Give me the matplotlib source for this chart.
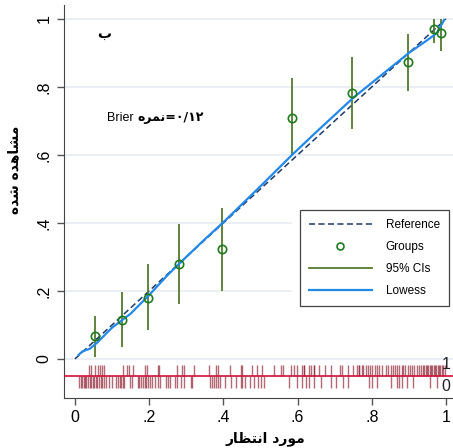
import numpy as np
import matplotlib
matplotlib.use("Agg")
import matplotlib.pyplot as plt
from matplotlib.patches import Rectangle
from matplotlib.lines import Line2D

# گروه‌ها (مقادیر خوانده شده از تصویر)
grp_x = [0.054, 0.127, 0.197, 0.281, 0.395, 0.585, 0.747, 0.898, 0.968, 0.987]
grp_y = [0.068, 0.115, 0.180, 0.280, 0.323, 0.709, 0.782, 0.873, 0.971, 0.959]
grp_lo = [0.006, 0.035, 0.085, 0.162, 0.200, 0.600, 0.676, 0.788, 0.929, 0.906]
grp_hi = [0.126, 0.197, 0.280, 0.397, 0.444, 0.826, 0.888, 0.956, 1.000, 1.000]

# منحنی lowess
low_x = [0.01, 0.02, 0.04, 0.06, 0.10, 0.15, 0.20, 0.25, 0.30, 0.35, 0.40,
         0.50, 0.585, 0.65, 0.75, 0.85, 0.90, 0.95, 0.975, 0.995]
low_y = [0.012, 0.022, 0.030, 0.048, 0.092, 0.133, 0.188, 0.247, 0.300, 0.352,
         0.402, 0.508, 0.600, 0.667, 0.768, 0.856, 0.900, 0.938, 0.958, 0.997]

# rug: پیامد = ۱ (بالا) و پیامد = ۰ (پایین)
rug1 = [0.039, 0.043, 0.055, 0.061, 0.067, 0.074, 0.079, 0.129, 0.141, 0.146,
        0.157, 0.190, 0.194, 0.223, 0.227, 0.275, 0.288, 0.294, 0.322, 0.362,
        0.380, 0.386, 0.418, 0.447, 0.451, 0.478, 0.491, 0.503, 0.537, 0.556,
        0.562, 0.582, 0.589, 0.598, 0.611, 0.616, 0.618, 0.630, 0.635, 0.643,
        0.645, 0.659, 0.673, 0.690, 0.713, 0.719, 0.737, 0.749, 0.766, 0.759,
        0.766, 0.773, 0.777, 0.784, 0.791, 0.796, 0.801, 0.809, 0.815, 0.820,
        0.827, 0.838, 0.845, 0.852, 0.856, 0.863, 0.869, 0.874, 0.881, 0.885,
        0.890, 0.897, 0.903, 0.908, 0.915, 0.921, 0.928, 0.933, 0.937, 0.942,
        0.945, 0.949, 0.952, 0.956, 0.960, 0.963, 0.967, 0.970, 0.974, 0.978,
        0.981, 0.985, 0.988, 0.992, 0.996]
rug0 = [0.011, 0.015, 0.019, 0.023, 0.027, 0.031, 0.036, 0.040, 0.044, 0.048,
        0.052, 0.057, 0.060, 0.065, 0.069, 0.074, 0.079, 0.083, 0.093, 0.099,
        0.110, 0.115, 0.120, 0.124, 0.129, 0.133, 0.147, 0.153, 0.169, 0.173,
        0.177, 0.182, 0.188, 0.192, 0.197, 0.202, 0.207, 0.217, 0.223, 0.229,
        0.244, 0.250, 0.257, 0.270, 0.276, 0.287, 0.295, 0.313, 0.316, 0.364,
        0.370, 0.376, 0.381, 0.386, 0.391, 0.405, 0.421, 0.434, 0.447, 0.451,
        0.459, 0.472, 0.483, 0.492, 0.501, 0.509, 0.577, 0.598, 0.612, 0.624,
        0.631, 0.643, 0.663, 0.690, 0.704, 0.723, 0.737, 0.793, 0.800, 0.815,
        0.851, 0.867, 0.874, 0.881, 0.894, 0.912, 0.957, 0.975]

x_ticks = [0, 0.2, 0.4, 0.6, 0.8, 1.0]
tick_lbl = ["0", ".2", ".4", ".6", ".8", "1"]

# متن فارسی به صورت شکل‌های نمایشی (ترتیب دیداری)
ylab = "\uFEE9\uFEAA\uFEB7 \uFEE9\uFEAA\uFEEB\uFE8E\uFEB8\uFEE3"          # مشاهده شده
xlab = "\uFEAD\uFE8E\uFEC8\uFE98\uFEE7\uFE8D \uFEA9\uFEAD\uFEEE\uFEE3"    # مورد انتظار
brier_fa = "\uFEE9\uFEAE\uFEE4\uFEE7=\u06F0/\u06F1\u06F2"                # نمره=۰/۱۲
panel = "\uFE8F"                                                          # ب

plt.rcParams['font.family'] = ['Liberation Sans', 'DejaVu Sans']

fig = plt.figure(figsize=(4.53, 4.48), dpi=100)
ax = fig.add_axes([64 / 453, 1 - 398 / 448, 389 / 453, 393 / 448])
ax.set_xlim(-0.0296, 1.0189)
ax.set_ylim(-0.115, 1.041)

for v in x_ticks:
    ax.axhline(v, color="#e6edf1", lw=1.2, zorder=0)

ax.plot([0, 1], [0, 1], color="#1f3a68", lw=1.1, ls=(0, (4, 2.2)), zorder=3)
ax.vlines(grp_x, grp_lo, grp_hi, color="#557a2e", lw=1.3, zorder=3)
ax.plot(grp_x, grp_y, 'o', mfc='none', mec="#1f7a1f", mew=1.2, ms=6, zorder=4)
ax.plot(low_x, low_y, color="#2389e8", lw=1.6, zorder=3)

# rug
ax.vlines(rug1, -0.05, -0.018, color="#8b1a2b", lw=1.0, alpha=0.65, zorder=2)
ax.vlines(rug0, -0.085, -0.05, color="#8b1a2b", lw=1.0, alpha=0.65, zorder=2)
ax.axhline(-0.05, color="#d0103a", lw=1.2, zorder=3)
ax.text(1.0, -0.015, "1", fontsize=11.5, ha='center', va='center', color="#222222")
ax.text(1.0, -0.082, "0", fontsize=11.5, ha='center', va='center', color="#222222")

# متن‌ها
ax.text(0.078, 0.955, panel, fontsize=10, fontweight='bold', family='DejaVu Sans',
        ha='center', va='center')
t1 = ax.text(0.086, 0.71, "Brier", fontsize=9, ha='left', va='center')
ax.annotate(brier_fa, xy=(1, 0.5), xycoords=t1, xytext=(3, 0),
            textcoords='offset points', fontsize=9, fontweight='bold',
            family='DejaVu Sans', ha='left', va='center')

ax.set_xticks(x_ticks)
ax.set_xticklabels(tick_lbl)
ax.set_yticks(x_ticks)
ax.set_yticklabels(tick_lbl, rotation=90, va='center')
ax.tick_params(direction='out', length=5, width=1, color="#555555",
               labelsize=11.5, pad=4)

ax.set_xlabel(xlab, fontsize=10, fontweight='bold', family='DejaVu Sans')
ax.xaxis.set_label_coords(0.517, -0.085)
ax.set_ylabel(ylab, fontsize=10, fontweight='bold', family='DejaVu Sans')
ax.yaxis.set_label_coords(-0.11, 0.58)

for s in ['top', 'right']:
    ax.spines[s].set_visible(False)
for s in ['left', 'bottom']:
    ax.spines[s].set_color("#444444")

# legend
ax.add_patch(Rectangle((0.585, 0.225), 0.42, 0.27, transform=ax.transAxes,
                       color='white', zorder=1))
handles = [
    Line2D([], [], color="#1f3a68", lw=1.1, ls=(0, (4, 2.2))),
    Line2D([], [], ls='none', marker='o', mfc='none', mec="#1f7a1f", mew=1.2, ms=5),
    Line2D([], [], color="#557a2e", lw=1.3),
    Line2D([], [], color="#2389e8", lw=1.6),
]
labels = ["Reference", "Groups", "95% CIs", "Lowess"]
leg = ax.legend(handles, labels, loc='upper left', bbox_to_anchor=(0.607, 0.478),
                borderaxespad=0, fontsize=8.5, handlelength=5.3,
                handletextpad=1.2, labelspacing=0.85, borderpad=0.75,
                fancybox=False, framealpha=1, edgecolor="#444444")
leg.get_frame().set_linewidth(0.9)

fig.savefig("out.png", dpi=100)
